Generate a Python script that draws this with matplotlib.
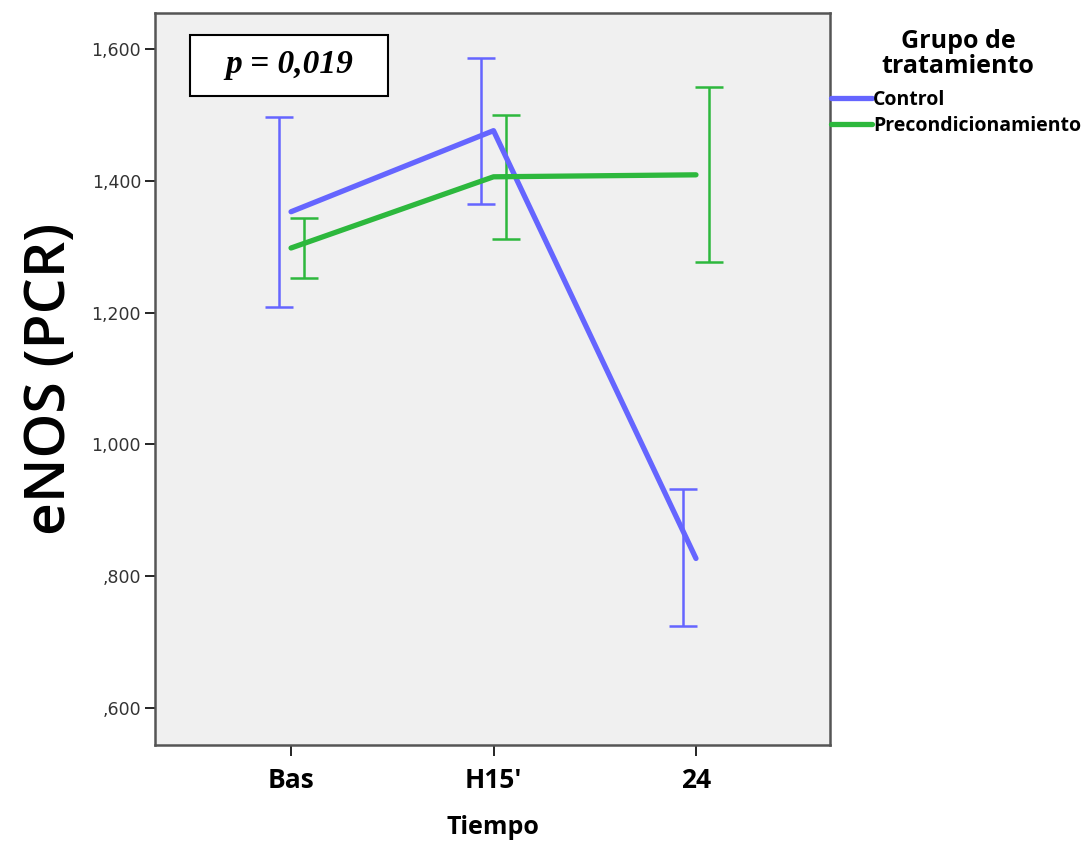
import matplotlib
matplotlib.use("Agg")
import matplotlib.pyplot as plt
from matplotlib.patches import Rectangle

# Datos (medias y limites de las barras de error)
tiempos = ["Bas", "H15'", "24"]
grupos = ["Control", "Precondicionamiento"]
control_media = [1.353, 1.476, 0.827]
control_sup = [1.497, 1.586, 0.932]
control_inf = [1.209, 1.365, 0.724]
precond_media = [1.298, 1.406, 1.409]
precond_sup = [1.344, 1.500, 1.542]
precond_inf = [1.253, 1.312, 1.276]
yticks = [0.6, 0.8, 1.0, 1.2, 1.4, 1.6]
ytick_labels = [",600", ",800", "1,000", "1,200", "1,400", "1,600"]

azul = "#6565FF"
verde = "#2DB83D"
W, H = 1084, 841

fig = plt.figure(figsize=(W / 100, H / 100), dpi=100)
ax = fig.add_axes([155/W, 96/H, 675/W, 732/H])
ax.set_facecolor("#F0F0F0")

x = list(range(len(tiempos)))
desp = 0.062

series = [
    (control_media, control_sup, control_inf, azul, -desp),
    (precond_media, precond_sup, precond_inf, verde, desp),
]
for (media, sup, inf, color, dx), nombre in zip(series, grupos):
    ax.plot(x, media, color=color, lw=3.8, solid_capstyle="round", label=nombre, zorder=3)
    xe = [xi + dx for xi in x]
    err = [[m - i for m, i in zip(media, inf)], [s - m for m, s in zip(media, sup)]]
    ax.errorbar(xe, media, yerr=err, fmt="none", ecolor=color, elinewidth=1.8,
                capsize=10, capthick=1.8, zorder=2)

ax.set_xlim(-0.672, 2.662)
ax.set_ylim(0.544, 1.6545)
ax.set_xticks(x)
ax.set_xticklabels(tiempos, fontsize=19, fontweight="bold", family="Open Sans")
ax.set_yticks(yticks)
ax.set_yticklabels(ytick_labels, fontsize=12.5, color="#333333", family="DejaVu Sans")
ax.tick_params(axis="x", length=8, width=1.2, pad=8)
ax.tick_params(axis="y", length=7, width=1.2, pad=3)
for s in ax.spines.values():
    s.set_color("#555555")
    s.set_linewidth(1.8)

ax.set_xlabel("Tiempo", fontsize=18, fontweight="bold", family="Open Sans", labelpad=15)
ax.set_ylabel("eNOS (PCR)", fontsize=41, fontweight="semibold", family="Open Sans",
              labelpad=9)

# Cuadro con el valor p
ax.add_patch(Rectangle((190/W, 745/H), 198/W, 61/H, transform=fig.transFigure,
                       facecolor="white", edgecolor="black", lw=1.5, zorder=5))
fig.text(289/W, 776/H, "p = 0,019", ha="center", va="center", fontsize=24,
         fontweight="bold", style="italic", family="Liberation Serif", zorder=6)

# Leyenda
fig.text(958/W, (H - 54)/H, "Grupo de\ntratamiento", ha="center", va="center",
         fontsize=18, fontweight="bold", family="Open Sans", linespacing=0.95)
ax.legend(loc="upper left", bbox_to_anchor=(831/W, (H - 90)/H),
          bbox_transform=fig.transFigure, frameon=False,
          handlelength=2.1, handletextpad=0.05,
          borderpad=0, borderaxespad=0, labelspacing=0.3,
          prop={"weight": "bold", "size": 14, "family": "Open Sans"})

fig.savefig("out.png", dpi=100)
